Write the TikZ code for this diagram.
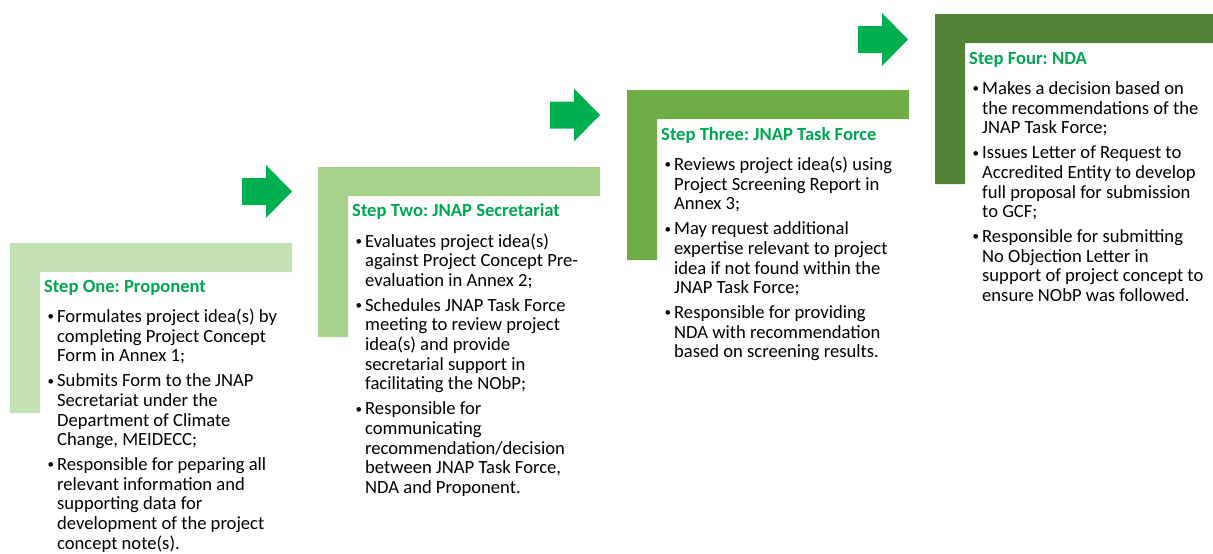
\documentclass[tikz,border=0pt]{standalone}
\usepackage{fontspec}
\setmainfont{Carlito}
\usepackage{array}
\frenchspacing

\definecolor{stepone}{HTML}{C5E0B4}
\definecolor{steptwo}{HTML}{A9D18E}
\definecolor{stepthree}{HTML}{70AD47}
\definecolor{stepfour}{HTML}{548235}
\definecolor{arrowgreen}{HTML}{00B050}
\definecolor{titlegreen}{HTML}{00A650}

\tikzset{
  steptext/.style={anchor=base west, inner sep=0pt, font=\fontsize{18.6}{19.7}\selectfont},
  stepbar/.style={fill=#1, draw=none},
  nextarrow/.style={fill=arrowgreen, draw=none}
}
\newcommand{\steptitle}[1]{\multicolumn{2}{@{}l@{}}{\textcolor{titlegreen}{\textbf{#1}}}}
\newcommand{\bul}{\makebox[9.5pt][l]{\raisebox{1.6pt}{\scalebox{0.7}{\textbullet}}}}

\begin{document}
\begin{tikzpicture}[x=1pt, y=-1pt]
\useasboundingbox (0,0) rectangle (1213,554);

% draw the L-shaped bars
\foreach \x/\y/\c in {10/243/stepone, 318/167/steptwo, 627/90/stepthree, 935/14/stepfour}
\fill[stepbar=\c] (\x,\y) -- ++(282,0) -- ++(0,29) -- ++(-252,0) -- ++(0,141) -- ++(-30,0) -- cycle;

% draw arrows between the steps
\foreach \x/\y in {242/191.5, 550/115, 858/39.5}
\fill[nextarrow] (\x,\y-13.5) -- ++(24,0) -- ++(0,-13) -- ++(26,26.5) -- ++(-26,26.5) -- ++(0,-13) -- ++(-24,0) -- cycle;

% draw text of each step
\node[steptext] (one) at (44,292) {\begin{tabular}[t]{@{\hspace{3.5pt}}l@{}l@{}}
  \steptitle{Step One: Proponent}\\[10.8pt]
  \bul & Formulates project idea(s) by \\
       & completing Project Concept \\
       & Form in Annex 1; \\[5pt]
  \bul & Submits Form to the JNAP \\
       & Secretariat under the \\
       & Department of Climate \\
       & Change, MEIDECC; \\[5pt]
  \bul & Responsible for peparing all \\
       & relevant information and \\
       & supporting data for \\
       & development of the project \\
       & concept note(s).
\end{tabular}};

\node[steptext] (two) at (352,216.5) {\begin{tabular}[t]{@{\hspace{3.5pt}}l@{}l@{}}
  \steptitle{Step Two: JNAP Secretariat}\\[10.8pt]
  \bul & Evaluates project idea(s) \\
       & against Project Concept Pre- \\
       & evaluation in Annex 2; \\[5pt]
  \bul & Schedules JNAP Task Force \\
       & meeting to review project \\
       & idea(s) and provide \\
       & secretarial support in \\
       & facilitating the NObP; \\[5pt]
  \bul & Responsible for \\
       & communicating \\
       & recommendation/decision \\
       & between JNAP Task Force, \\
       & NDA and Proponent.
\end{tabular}};

\node[steptext] (three) at (661,140) {\begin{tabular}[t]{@{\hspace{3.5pt}}l@{}l@{}}
  \steptitle{Step Three: JNAP Task Force}\\[10.8pt]
  \bul & Reviews project idea(s) using \\
       & Project Screening Report in \\
       & Annex 3; \\[5pt]
  \bul & May request additional \\
       & expertise relevant to project \\
       & idea if not found within the \\
       & JNAP Task Force; \\[5pt]
  \bul & Responsible for providing \\
       & NDA with recommendation \\
       & based on screening results.
\end{tabular}};

\node[steptext] (four) at (969,64) {\begin{tabular}[t]{@{\hspace{3.5pt}}l@{}l@{}}
  \steptitle{Step Four: NDA}\\[10.8pt]
  \bul & Makes a decision based on \\
       & the recommendations of the \\
       & JNAP Task Force; \\[5pt]
  \bul & Issues Letter of Request to \\
       & Accredited Entity to develop \\
       & full proposal for submission \\
       & to GCF; \\[5pt]
  \bul & Responsible for submitting \\
       & No Objection Letter in \\
       & support of project concept to \\
       & ensure NObP was followed.
\end{tabular}};
\end{tikzpicture}
\end{document}
